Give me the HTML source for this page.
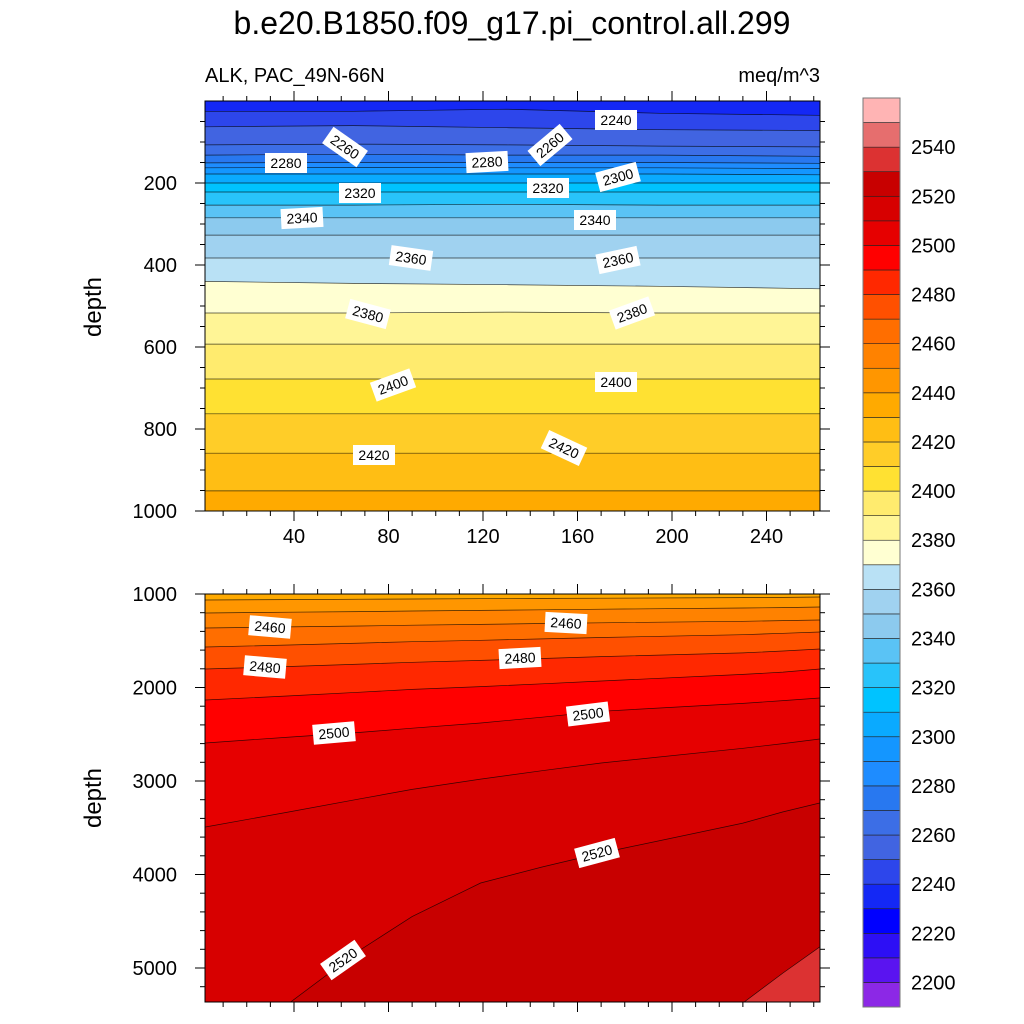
<!DOCTYPE html>
<html><head><meta charset="utf-8"><style>
html,body{margin:0;padding:0;background:#fff;width:1024px;height:1024px;overflow:hidden}
svg{display:block;font-family:"Liberation Sans",sans-serif}
</style></head><body>
<svg id="chart" width="1024" height="1024" viewBox="0 0 1024 1024" xmlns="http://www.w3.org/2000/svg">
<defs>
<clipPath id="clipTop"><rect x="205" y="101" width="615" height="410"/></clipPath>
<clipPath id="clipBot"><rect x="205" y="594" width="615" height="408"/></clipPath>
</defs>
<text x="512" y="34" font-size="32" text-anchor="middle">b.e20.B1850.f09_g17.pi_control.all.299</text>
<text x="205" y="82" font-size="20">ALK, PAC_49N-66N</text>
<text x="820" y="82" font-size="20" text-anchor="end">meq/m^3</text>
<text x="101" y="307" font-size="24" text-anchor="middle" transform="rotate(-90 101 307)">depth</text>
<text x="101" y="798" font-size="24" text-anchor="middle" transform="rotate(-90 101 798)">depth</text>
<g id="topPlot"></g>
<g id="botPlot"></g>
<g id="axes"></g>
<g id="labels"></g>
<g id="cbar"></g>
</svg>
<script>
// band colours from lowest (<2200) to highest (>2550)
const bandColors = ["#8c28e6","#5a14f0","#2d0ff5","#0000ff","#1428f5","#2d46eb","#4164e1","#3c6ee6","#2878f0","#1e8cff","#1496ff","#0aaaff","#00c3ff","#28c3fa","#5ac3f5","#8ccaee","#a0d2f0","#b9e1f5","#ffffd2","#fff596","#ffeb6e","#ffe132","#ffcd28","#ffbe14","#ffaa00","#ff9600","#ff8200","#ff6e00","#ff5000","#ff2800","#ff0000","#e60000","#d70000","#c80000","#dc3232","#e66e6e","#ffb4b4"];
const cbarLabels = [2200,2220,2240,2260,2280,2300,2320,2340,2360,2380,2400,2420,2440,2460,2480,2500,2520,2540];

const topTimes = [2.5, 65, 130, 195, 262.5];
const topLevels = [2240,2250,2260,2270,2280,2290,2300,2310,2320,2330,2340,2350,2360,2370,2380,2390,2400,2410,2420,2430];
const topDepths = [
 [25,25,20,30,35],[63,60,65,70,72],[107,105,107,110,112],[132,130,132,132,135],
 [151,150,150,150,152],[163,162,163,163,165],[178,178,178,178,180],[200,200,200,200,200],
 [222,222,222,222,222],[254,254,252,254,254],[285,285,285,285,285],[327,327,327,327,327],
 [383,383,383,383,383],[440,445,448,452,458],[517,517,515,517,517],[593,593,593,593,593],
 [678,678,678,678,678],[763,763,763,763,763],[859,859,859,859,859],[951,951,951,951,951]];

const botTimes = [2.5, 38, 68, 90, 119, 145, 170, 230, 247, 262.5];
const botLevels = [2440,2450,2460,2470,2480,2490,2500,2510,2520,2530];
const botDepths = [
 [1064,1060,1056,1053,1050,1047,1045,1038,1036,1032],
 [1203,1195,1188,1182,1175,1169,1163,1150,1145,1139],
 [1364,1352,1342,1334,1325,1316,1308,1292,1285,1278],
 [1567,1545,1525,1510,1495,1480,1465,1435,1420,1406],
 [1802,1775,1750,1730,1710,1690,1670,1630,1610,1588],
 [2134,2090,2050,2020,1990,1960,1930,1860,1835,1802],
 [2594,2530,2480,2435,2380,2318,2255,2170,2140,2112],
 [3492,3330,3190,3090,2980,2890,2807,2650,2600,2551],
 [5900,5374,4807,4450,4091,3920,3770,3450,3330,3235],
 [7000,7000,7000,6800,6500,6250,6000,5374,5053,4775]];

const topDepthTicks = [200,400,600,800,1000];
const botDepthTicks = [1000,2000,3000,4000,5000];
const timeTicks = [40,80,120,160,200,240];

const NS = "http://www.w3.org/2000/svg";
const xT = t => 199.5 + t*2.3625;
const yTop = d => 101 + d*0.41;
const yBot = d => 594 + (d-1000)*0.0935;
const colorOf = lo => bandColors[Math.max(0,Math.min(bandColors.length-1, Math.round((lo-2190)/10)))];
function mk(tag, attrs, parent){const e=document.createElementNS(NS,tag);for(const k in attrs)e.setAttribute(k,attrs[k]);parent.appendChild(e);return e;}

function drawPanel(g, times, levels, depths, yf, clip, x0, x1, y0, y1){
  const cy = d => Math.min(y1+1, Math.max(y0, yf(d))).toFixed(1);
  const cg = mk('g',{'clip-path':'url(#'+clip+')'},g);
  const bg = mk('rect',{x:x0,y:y0,width:x1-x0,height:y1-y0,fill:colorOf(levels[levels.length-1])},cg);
  
  
  for(let i=levels.length-1;i>=0;i--){
    let pts = times.map((t,j)=>xT(t).toFixed(1)+','+cy(depths[i][j]));
    const extra = [ (x1+1)+','+cy(depths[i][times.length-1]), (x1+1)+','+y0, (x0)+','+y0, (x0)+','+cy(depths[i][0]) ];
    const p = mk('polygon',{points:pts.concat(extra).join(' '),fill:colorOf(levels[i]-10)},cg);
    
    
  }
  for(let i=0;i<levels.length;i++){
    let pts = [(x0)+','+cy(depths[i][0])].concat(times.map((t,j)=>xT(t).toFixed(1)+','+cy(depths[i][j])));
    pts.push((x1+1)+','+cy(depths[i][times.length-1]));
    const l = mk('polyline',{points:pts.join(' '),fill:'none',stroke:'#000','stroke-width':0.7,'stroke-opacity':0.75},cg);
    
    
  }
  mk('rect',{x:x0,y:y0,width:x1-x0,height:y1-y0,fill:'none',stroke:'#000','stroke-width':1},g);
}
drawPanel(document.getElementById('topPlot'), topTimes, topLevels, topDepths, yTop, 'clipTop', 205, 820, 101, 511);
drawPanel(document.getElementById('botPlot'), botTimes, botLevels, botDepths, yBot, 'clipBot', 205, 820, 594, 1002);

// axes
const ax = document.getElementById('axes');
function tick(x1,y1,x2,y2){mk('line',{x1,y1,x2,y2,stroke:'#000','stroke-width':1},ax);}
function txt(s,x,y,anchor,name){const t=mk('text',{x,y,'font-size':20,'text-anchor':anchor},ax);t.textContent=s;}
[[101,511],[594,1002]].forEach(([y0,y1])=>{
  for(let t=10;t<=260;t+=10){const x=xT(t);const L=(t%40===0)?10:5;tick(x,y0,x,y0-L);tick(x,y1,x,y1+L);}
});
timeTicks.forEach(t=>txt(String(t),xT(t),543,'middle','x-tick-label-'+t));
for(let d=50;d<=1000;d+=50){const y=yTop(d);const L=(d%200===0)?10:5;tick(205,y,205-L,y);tick(820,y,820+L,y);}
topDepthTicks.forEach(d=>txt(String(d),177,yTop(d)+7,'end','top-y-tick-'+d));
for(let d=1000;d<=5200;d+=200){const y=yBot(d);const L=(d%1000===0)?10:5;tick(205,y,205-L,y);tick(820,y,820+L,y);}
botDepthTicks.forEach(d=>txt(String(d),177,yBot(d)+7,'end','bottom-y-tick-'+d));

// contour labels
const lblData = [
 ["2240",616,120,0],["2260",345,147,35],["2260",550,145,-40],["2280",286,163,0],["2280",487,162,-3],
 ["2300",618,177,-15],["2320",360,193,0],["2320",548,188,0],["2340",302,218,-3],["2340",595,220,0],
 ["2360",411,258,8],["2360",618,260,-12],["2380",368,314,15],["2380",632,313,-20],["2400",393,385,-20],
 ["2400",616,382,0],["2420",374,455,0],["2420",564,448,25],
 ["2460",270,627,5],["2460",566,623,3],["2480",265,667,5],["2480",520,658,-3],["2500",334,733,-5],
 ["2500",588,714,-7],["2520",597,853,-15],["2520",343,960,-35]];
const lg = document.getElementById('labels');
lblData.forEach(([s,x,y,r])=>{
  const g = mk('g',{transform:`translate(${x},${y}) rotate(${r})`},lg);
  
  
  mk('rect',{x:-21,y:-10,width:42,height:20,fill:'#fff'},g);
  const t = mk('text',{x:0,y:5,'font-size':14,'text-anchor':'middle'},g);
  t.textContent = s;
});

// colorbar
const cb = document.getElementById('cbar');
const cbTop=98, cbBot=1007, n=bandColors.length, h=(cbBot-cbTop)/n;
bandColors.forEach((c,i)=>{
  const r = mk('rect',{x:863,y:(cbBot-(i+1)*h).toFixed(2),width:37,height:h.toFixed(2),fill:c,stroke:'#222','stroke-width':0.6},cb);
  
  
});
mk('rect',{x:863,y:cbTop,width:37,height:cbBot-cbTop,fill:'none',stroke:'#777','stroke-width':1},cb);
cbarLabels.forEach(v=>{
  const y = cbBot-((v-2190)/10)*h;
  const t = mk('text',{x:911,y:(y+7).toFixed(1),'font-size':20},cb);
  t.textContent = String(v);
  
  
});
</script>
</body></html>
